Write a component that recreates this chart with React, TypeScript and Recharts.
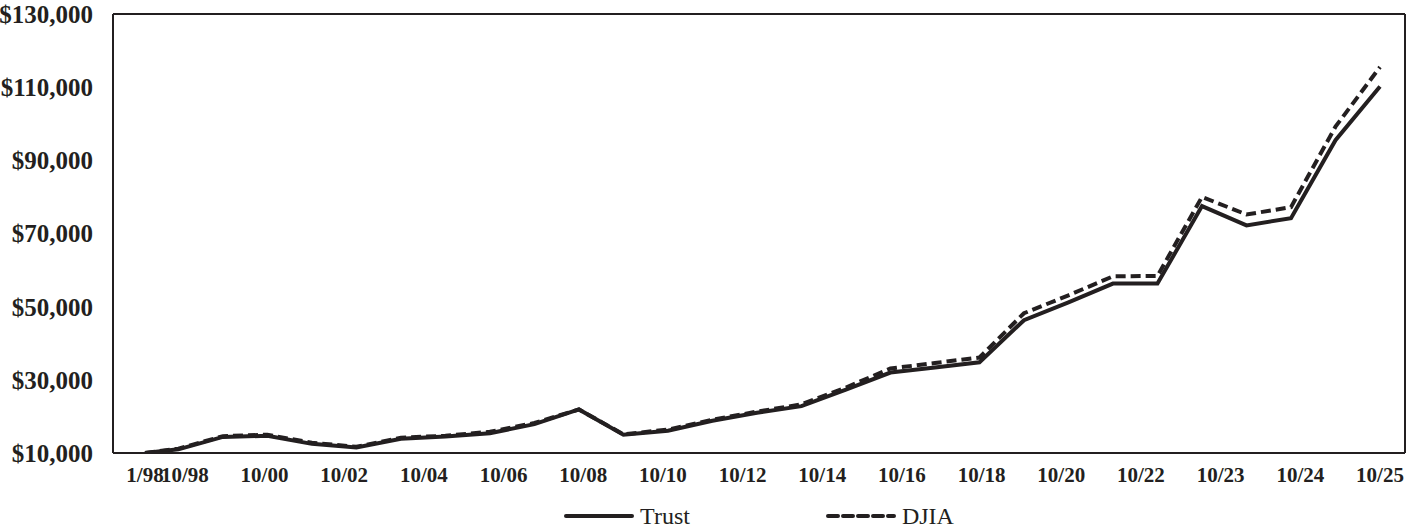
import React from "react";
import { LineChart, Line, XAxis, YAxis, Legend, CartesianGrid } from "recharts";

// year-end (October) values of a $10,000 investment
const dates = [
  "1/98", "10/98", "10/99", "10/00", "10/01", "10/02", "10/03", "10/04",
  "10/05", "10/06", "10/07", "10/08", "10/09", "10/10", "10/11", "10/12",
  "10/13", "10/14", "10/15", "10/16", "10/17", "10/18", "10/19", "10/20",
  "10/21", "10/22", "10/23", "10/24", "10/25",
];
const trust = [
  10000, 11000, 14400, 14700, 12500, 11500, 13900, 14500,
  15400, 17900, 21900, 15000, 16100, 18800, 21000, 22800,
  27300, 32000, 33400, 34800, 46300, 51200, 56300, 56300,
  77500, 72200, 74200, 95500, 110200,
];
const djia = [
  10000, 11200, 14600, 15000, 12800, 11700, 14200, 14700,
  15800, 18200, 21900, 15100, 16400, 19100, 21300, 23300,
  27900, 33100, 34600, 36100, 48200, 53100, 58300, 58400,
  80000, 75200, 77200, 99200, 115500,
];

// the axis labels as printed: spread evenly over 32 slots, not tied to the points
const tickLabels = [
  "1/98", "10/98", "10/00", "10/02", "10/04", "10/06", "10/08", "10/10",
  "10/12", "10/14", "10/16", "10/18", "10/20", "10/22", "10/23", "10/24", "10/25",
];
const yTicks = [10000, 30000, 50000, 70000, 90000, 110000, 130000];

const INK = "#231f20";

// years since 1/98, from the "m/yy" date
const toT = (d: string) => {
  const [m, yy] = d.split("/").map(Number);
  const year = yy > 50 ? 1900 + yy : 2000 + yy;
  return year - 1998 + (m - 1) / 12;
};

const data = dates.map((d, i) => ({ date: d, t: toT(d), trust: trust[i], djia: djia[i] }));

const tStart = data[0].t;
const tEnd = data[data.length - 1].t;
const labelSlots = tickLabels.map((_, i) => (i === 0 ? 0 : 2 * i - 1));
const lastSlot = labelSlots[labelSlots.length - 1];
const xTicks = labelSlots.map((s) => tStart + ((tEnd - tStart) * s) / lastSlot);

const series = [
  { key: "trust", name: "Trust", dash: undefined },
  { key: "djia", name: "DJIA", dash: "10 5" },
];

const LegendContent = () => (
  <div
    style={{
      display: "flex",
      justifyContent: "center",
      paddingLeft: 113,
      paddingTop: 8,
      height: 37,
      boxSizing: "border-box",
      gap: 136,
    }}
  >
    {series.map((s) => (
      <div key={s.key} style={{ display: "flex", alignItems: "center", lineHeight: "28px" }}>
        <svg width={70} height={10}>
          <line
            x1={2}
            y1={5}
            x2={68}
            y2={5}
            stroke={INK}
            strokeWidth={4}
            strokeDasharray={s.dash}
            strokeLinecap="round"
          />
        </svg>
        <span style={{ marginLeft: 6, fontSize: 24, color: INK }}>{s.name}</span>
      </div>
    ))}
  </div>
);

export default function App() {
  return (
    <div
      style={{
        position: "absolute",
        left: 0,
        top: 0,
        fontFamily: "'Liberation Serif', 'Times New Roman', serif",
        background: "#fff",
      }}
    >
      <LineChart width={1414} height={530} data={data} margin={{ top: 14, right: 9, left: 0, bottom: 0 }}>
        <CartesianGrid
          stroke={INK}
          strokeWidth={2}
          horizontalCoordinatesGenerator={({ offset }: any) => [offset.top, offset.top + offset.height]}
          verticalCoordinatesGenerator={({ offset }: any) => [offset.left, offset.left + offset.width]}
        />
        <XAxis
          dataKey="t"
          type="number"
          domain={["dataMin", "dataMax"]}
          padding={{ left: 32, right: 25 }}
          ticks={xTicks}
          interval={0}
          tickFormatter={(_v: number, i: number) => tickLabels[i] ?? ""}
          tickLine={false}
          tickSize={0}
          tickMargin={14}
          height={40}
          axisLine={{ stroke: INK, strokeWidth: 2 }}
          tick={{ fill: INK, fontSize: 21, fontWeight: "bold" }}
        />
        <YAxis
          domain={[10000, 130000]}
          ticks={yTicks}
          interval={0}
          allowDataOverflow
          width={113}
          tickFormatter={(v: number) => "$" + v.toLocaleString("en-US")}
          tickLine={false}
          tickSize={0}
          tickMargin={20}
          axisLine={{ stroke: INK, strokeWidth: 2 }}
          tick={{ fill: INK, fontSize: 25, fontWeight: "bold" }}
        />
        {series.map((s) => (
          <Line
            key={s.key}
            type="linear"
            dataKey={s.key}
            name={s.name}
            stroke={INK}
            strokeWidth={4}
            strokeDasharray={s.dash}
            dot={false}
            activeDot={false}
            isAnimationActive={false}
          />
        ))}
        <Legend verticalAlign="bottom" content={<LegendContent />} />
      </LineChart>
    </div>
  );
}
